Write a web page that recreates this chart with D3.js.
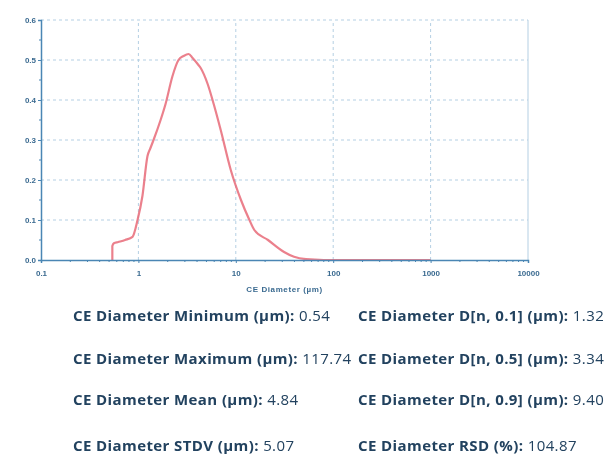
<html lang="en">
    <head>
        <title>CE Diameter distribution</title>
        <meta charset="utf-8">
        <script src="https://d3js.org/d3.v7.min.js"></script>
        <style>
            body { margin: 0; background: #fff; }
            svg { display: block; filter: blur(0.4px); }
        </style>
    </head>
    <body>
        <div id="chart">
            <svg width="616" height="458"></svg>
        </div>

        <script>
            // CE diameter (um) and number fraction
            var diameters = [0.54, 0.54, 0.56, 0.62, 0.73, 0.87, 0.98, 1.10, 1.24, 1.33, 1.43, 1.69, 1.90, 2.24, 2.58, 2.91, 3.28, 3.60, 4.06, 4.36, 5.14, 5.93, 7.0, 8.88, 11.3, 13.8, 15.5, 21.4, 31.3, 39.6, 52.6, 80, 117.7, 200, 500, 1000];
            var fractions = [0.0, 0.035, 0.042, 0.045, 0.05, 0.058, 0.10, 0.16, 0.26, 0.28, 0.30, 0.35, 0.39, 0.46, 0.50, 0.51, 0.515, 0.505, 0.49, 0.48, 0.44, 0.39, 0.325, 0.225, 0.15, 0.10, 0.075, 0.05, 0.02, 0.008, 0.002, 0.0, 0.0, 0.0, 0.0, 0.0];

            var yTicks = [0, 0.1, 0.2, 0.3, 0.4, 0.5, 0.6];
            var yMinor = [0.05, 0.15, 0.25, 0.35, 0.45, 0.55];
            var xTicks = [0.1, 1, 10, 100, 1000, 10000];
            var xTickLabels = ["0.1", "1", "10", "100", "1000", "10000"];

            var statLabels = [
                ["CE Diameter Minimum (µm): ", "CE Diameter D[n, 0.1] (µm): "],
                ["CE Diameter Maximum (µm): ", "CE Diameter D[n, 0.5] (µm): "],
                ["CE Diameter Mean (µm): ", "CE Diameter D[n, 0.9] (µm): "],
                ["CE Diameter STDV (µm): ", "CE Diameter RSD (%): "]
            ];
            var statValues = [
                ["0.54", "1.32"],
                ["117.74", "3.34"],
                ["4.84", "9.40"],
                ["5.07", "104.87"]
            ];

            var svg = d3.select("svg");
            var axisColor = "#4a86b4",
                gridColor = "#b4cfe3",
                labelColor = "#3a6a90",
                textColor = "#22425f";

            var x = d3.scaleLog().domain([0.1, 10000]).range([41, 528]);
            var y = d3.scaleLinear().domain([0, 0.6]).range([260, 20]);

            var xMinor = [];
            for (var p = -1; p < 4; p++) {
                for (var k = 2; k < 10; k++) xMinor.push(k * Math.pow(10, p));
            }

            // grid
            var grid = svg.append("g");
            grid.selectAll(".hgrid")
                .data(yTicks.slice(1))
                .enter().append("line")
                .attr("x1", x(0.1)).attr("x2", x(10000))
                .attr("y1", function(d) { return y(d); })
                .attr("y2", function(d) { return y(d); })
                .attr("stroke", gridColor)
                .attr("stroke-dasharray", "3,3");
            grid.selectAll(".vgrid")
                .data(xTicks.slice(1, 5))
                .enter().append("line")
                .attr("y1", y(0)).attr("y2", y(0.6))
                .attr("x1", function(d) { return x(d); })
                .attr("x2", function(d) { return x(d); })
                .attr("stroke", gridColor)
                .attr("stroke-dasharray", "3,3");
            grid.append("line")
                .attr("x1", x(10000)).attr("x2", x(10000))
                .attr("y1", y(0)).attr("y2", y(0.6))
                .attr("stroke", gridColor);

            // curve
            var pts = diameters.map(function(d, i) { return [d, fractions[i]]; });
            var line = d3.line()
                .x(function(d) { return x(d[0]); })
                .y(function(d) { return y(d[1]); })
                .curve(d3.curveMonotoneX);
            svg.append("path")
                .datum(pts)
                .attr("d", line)
                .attr("fill", "none")
                .attr("stroke", "#e86a78")
                .attr("stroke-width", 2.2)
                .attr("stroke-opacity", 0.85);

            // axes
            var gx = svg.append("g")
                .attr("transform", "translate(0," + y(0) + ")")
                .call(d3.axisBottom(x).tickValues(xTicks).tickSize(3)
                    .tickFormat(function(d, i) { return xTickLabels[i]; }));
            gx.append("g").selectAll("line")
                .data(xMinor)
                .enter().append("line")
                .attr("x1", function(d) { return x(d); })
                .attr("x2", function(d) { return x(d); })
                .attr("y1", 0).attr("y2", 2)
                .attr("stroke", axisColor);

            var gy = svg.append("g")
                .attr("transform", "translate(" + x(0.1) + ",0)")
                .call(d3.axisLeft(y).tickValues(yTicks).tickSize(3).tickFormat(d3.format(".1f")));
            gy.append("g").selectAll("line")
                .data(yMinor)
                .enter().append("line")
                .attr("y1", function(d) { return y(d); })
                .attr("y2", function(d) { return y(d); })
                .attr("x1", 0).attr("x2", -2)
                .attr("stroke", axisColor);

            [gx, gy].forEach(function(g) {
                g.select(".domain").attr("stroke", axisColor).attr("stroke-width", 1.5);
                g.selectAll(".tick line").attr("stroke", axisColor);
                g.selectAll(".tick text")
                    .attr("fill", labelColor)
                    .style("font-family", "Liberation Sans, Arial, sans-serif")
                    .style("font-size", "8px")
                    .style("font-weight", "bold");
            });
            gx.selectAll(".tick text").attr("y", 10);
            gy.selectAll(".tick text").attr("x", -5);

            svg.append("text")
                .attr("x", (x(0.1) + x(10000)) / 2)
                .attr("y", 292)
                .attr("text-anchor", "middle")
                .attr("fill", labelColor)
                .style("font-family", "Liberation Sans, Arial, sans-serif")
                .style("font-size", "8px")
                .style("font-weight", "bold")
                .style("letter-spacing", "0.6px")
                .text("CE Diameter (µm)");

            // statistics block
            var colX = [73, 358],
                rowY = [321, 364, 405, 451];
            statLabels.forEach(function(row, r) {
                row.forEach(function(lbl, c) {
                    var t = svg.append("text")
                        .attr("x", colX[c])
                        .attr("y", rowY[r])
                        .attr("fill", textColor)
                        .style("font-family", "Open Sans, sans-serif")
                        .style("font-size", "15px")
                        .style("letter-spacing", "0.4px");
                    t.append("tspan").style("font-weight", "bold").text(lbl);
                    t.append("tspan").text(statValues[r][c]);
                });
            });
        </script>
    </body>
</html>
